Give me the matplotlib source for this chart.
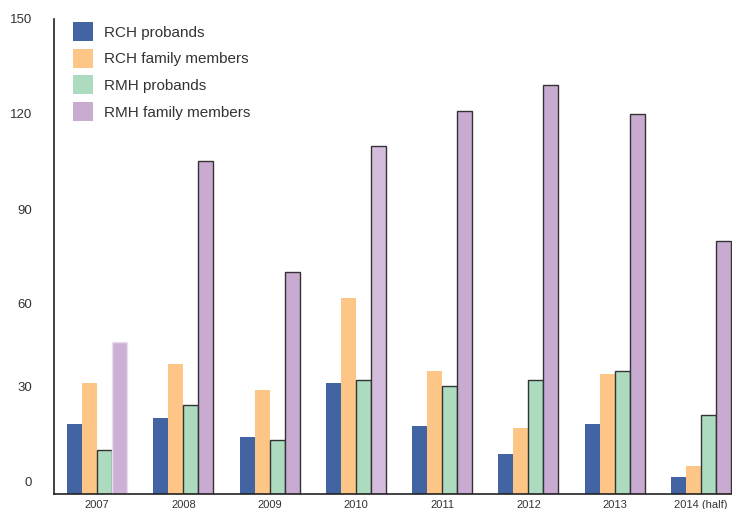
import matplotlib
matplotlib.use("Agg")
import matplotlib.pyplot as plt
import matplotlib.transforms as mtransforms
import numpy as np

# Patients seen per year, by hospital and group
years = ['2007', '2008', '2009', '2010', '2011', '2012', '2013', '2014 (half)']
rch_probands = [22, 24, 18, 35, 21.5, 12.5, 22, 5.5]
rch_family = [35, 41, 33, 62, 39, 21, 38, 9]
rmh_probands = [14, 28, 17, 36, 34, 36, 39, 25]
rmh_family = [48, 105, 70, 110, 121, 129, 120, 80]

series_names = ['RCH probands', 'RCH family members', 'RMH probands', 'RMH family members']
colors = ['#4264a2', '#fdc687', '#acdbbf', '#c9aad1']
y_ticks = [0, 30, 60, 90, 120, 150]

plt.rcParams['font.family'] = ['Liberation Sans', 'DejaVu Sans']

fig = plt.figure(figsize=(7.32, 5.09), dpi=100)
ax = fig.add_axes([54 / 732, 15 / 509, 1 - 54 / 732, 475 / 509])

x = np.arange(len(years))
w = 0.174
offsets = np.array([-1.5, -0.5, 0.5, 1.5]) * w

# RCH bars have no outline, RMH bars get a dark edge
b1 = ax.bar(x + offsets[0], rch_probands, w, color=colors[0], linewidth=0)
b2 = ax.bar(x + offsets[1], rch_family, w, color=colors[1], linewidth=0)
b3 = ax.bar(x + offsets[2], rmh_probands, w, color=colors[2],
            edgecolor='#333333', linewidth=1.0)
b4 = ax.bar(x + offsets[3], rmh_family, w, color=colors[3],
            edgecolor='#333333', linewidth=1.0)

# the 2007 and 2010 RMH family bars are a lighter shade
b4[0].set_facecolor('#cdb0d6')
b4[0].set_edgecolor('#eadcee')
b4[3].set_facecolor('#d6bcdc')

ax.set_xlim(-0.5, 7.36)
ax.set_ylim(0, 150)

ax.set_xticks(x)
ax.set_xticklabels(years, fontsize=8, color='#333333')
ax.set_yticks(y_ticks)
ax.set_yticklabels([str(v) for v in y_ticks], fontsize=9.5, color='#333333')
ax.tick_params(axis='both', length=0)
ax.tick_params(axis='y', pad=16)
ax.tick_params(axis='x', pad=4.5)

# lower two y labels sit a little higher than their values
shift = mtransforms.ScaledTranslation(0, 9 / 72, fig.dpi_scale_trans)
for lbl in ax.get_yticklabels()[:2]:
    lbl.set_transform(lbl.get_transform() + shift)

for side in ['top', 'right']:
    ax.spines[side].set_visible(False)
ax.spines['left'].set_color('#222222')
ax.spines['bottom'].set_color('#222222')
ax.spines['left'].set_linewidth(1.2)
ax.spines['bottom'].set_linewidth(1.2)

handles = [plt.Rectangle((0, 0), 1, 1, color=c, linewidth=0) for c in colors]
ax.legend(handles, series_names, loc='upper left',
          bbox_to_anchor=(73 / 732, 1 - 22 / 509), bbox_transform=fig.transFigure,
          frameon=False, fontsize=11, borderpad=0, borderaxespad=0,
          handlelength=1.31, handleheight=1.54, handletextpad=0.72,
          labelspacing=0.5, labelcolor='#333333')

fig.savefig('out.png', dpi=100)
